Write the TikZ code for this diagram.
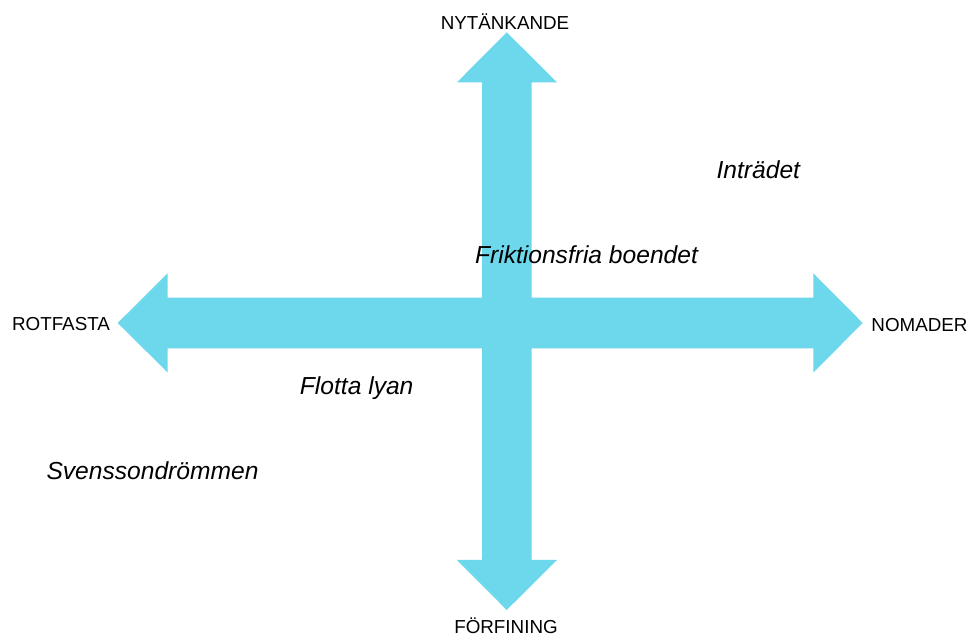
\documentclass[tikz,border=0pt]{standalone}
\usepackage{fontspec}
\setmainfont{Liberation Sans}
\definecolor{axiscyan}{RGB}{109,215,236}
\tikzset{
	axislabel/.style={anchor=base, inner sep=0pt, font=\fontsize{18.8}{21}\selectfont},
	quadlabel/.style={anchor=base, inner sep=0pt, font=\fontsize{24.6}{27}\selectfont\itshape}
}

\begin{document}
\begin{tikzpicture}[x=1pt, y=1pt]
				\useasboundingbox (0, 0) rectangle (969, 637);
				
				% vertical axis
				\fill[axiscyan] (506.7, 604.7) -- (557, 554.7) -- (531.5, 554.7) -- (531.5, 77)
					-- (557, 77) -- (506.7, 27) -- (457, 77) -- (482, 77)
					-- (482, 554.7) -- (457, 554.7) -- cycle;
				
				% horizontal axis
				\fill[axiscyan] (117.7, 314) -- (167.7, 363.7) -- (167.7, 339.3) -- (813.3, 339.3)
					-- (813.3, 363.7) -- (862.7, 314) -- (813.3, 264.5) -- (813.3, 288.7)
					-- (167.7, 288.7) -- (167.7, 264.5) -- cycle;
				
				\node[axislabel] (top) at (505, 607.7) {NYTÄNKANDE};
				\node[axislabel] (bottom) at (506, 3.2) {FÖRFINING};
				\node[axislabel] (left) at (61, 306.3) {ROTFASTA};
				\node[axislabel] (right) at (919.5, 305.5) {NOMADER};
				
				\node[quadlabel] (intradet) at (758.3, 458.7) {Inträdet};
				\node[quadlabel] (friktion) at (586.5, 373.7) {Friktionsfria boendet};
				\node[quadlabel] (flotta) at (356.7, 242.7) {Flotta lyan};
				\node[quadlabel] (svensson) at (152.5, 157.7) {Svenssondrömmen};
			\end{tikzpicture}
\end{document}
